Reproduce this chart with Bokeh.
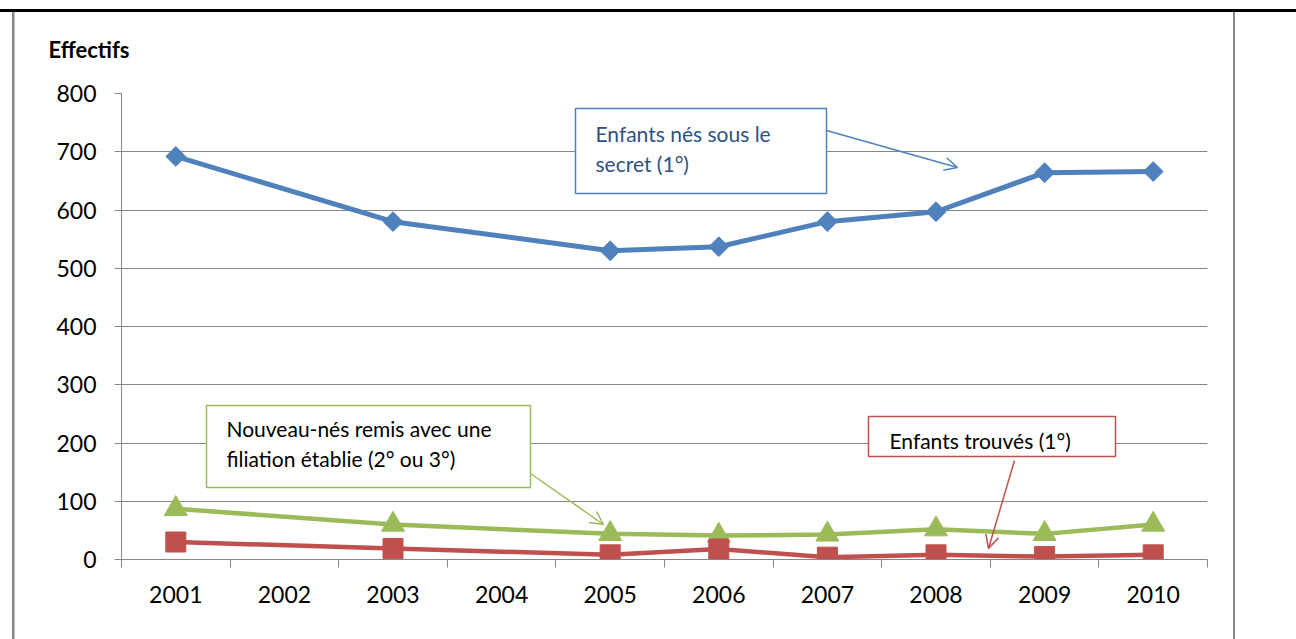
from bokeh.plotting import figure
from bokeh.models import Range1d, FixedTicker, BoxAnnotation, Label, Arrow, OpenHead
from bokeh.embed import file_html
from bokeh.resources import INLINE
import numpy as np

# ---- data ----
categories = ["2001", "2002", "2003", "2004", "2005", "2006", "2007", "2008", "2009", "2010"]
years = ["2001", "2003", "2005", "2006", "2007", "2008", "2009", "2010"]
nes_sous_secret = [692, 580, 530, 537, 580, 597, 664, 666]
nouveau_nes_remis = [87, 60, 44, 41, 43, 52, 44, 60]
enfants_trouves = [30, 19, 8, 18, 4, 8, 5, 8]
y_ticks = [0, 100, 200, 300, 400, 500, 600, 700, 800]

BLUE, RED, GREEN = "#4F81BD", "#C0504D", "#9BBB59"
GRID = "#868686"
FONT = "Lato"

# layout (page pixels): frame from x=121..1207, y=93..559
W, H = 1296, 639
LEFT, RIGHT, TOP, BOTTOM = 121, 89, 93, 80
FRAME_W = W - LEFT - RIGHT
FRAME_H = H - TOP - BOTTOM

ncat = len(categories)
ymax = y_ticks[-1]

# outer chart frame (grey) and top rule (black) drawn as CSS backgrounds behind the canvas
frame_css = {
    "background-image": ", ".join(["linear-gradient(#000000, #000000)",
                                   f"linear-gradient({GRID}, {GRID})",
                                   f"linear-gradient({GRID}, {GRID})"]),
    "background-position": "0px 9px, 12px 12px, 1233px 12px",
    "background-size": "100% 3px, 2.5px 100%, 2px 100%",
    "background-repeat": "no-repeat",
    "background-color": "white",
}

p = figure(width=W, height=H, x_range=Range1d(0, ncat), y_range=Range1d(0, ymax),
           output_backend="svg", toolbar_location=None, styles=frame_css,
           min_border_left=LEFT, min_border_right=RIGHT, min_border_top=TOP, min_border_bottom=BOTTOM)
p.outline_line_color = None
p.background_fill_color = "white"
p.border_fill_alpha = 0

# y-axis caption as title
p.title.text = "Effectifs"
p.title.text_font = FONT
p.title.text_font_size = "22px"
p.title.text_font_style = "bold"
p.title.text_color = "black"
p.title.align = "left"
p.title.offset = -73
p.title.standoff = 62

# helpers to place annotations from page pixel positions
def px2x(px):
    return (px - LEFT) / FRAME_W * ncat

def py2y(py):
    return ((TOP + FRAME_H) - py) / FRAME_H * ymax

# axes
xpos = {c: i + 0.5 for i, c in enumerate(categories)}
xa = p.xaxis[0]
xa.ticker = FixedTicker(ticks=[xpos[c] for c in categories], minor_ticks=list(range(ncat + 1)))
xa.major_label_overrides = {xpos[c]: c for c in categories}
xa.major_tick_line_color = None
xa.minor_tick_in = 0
xa.minor_tick_out = 8
xa.minor_tick_line_color = GRID
xa.axis_line_color = GRID
xa.major_label_text_font = FONT
xa.major_label_text_font_size = "23px"
xa.major_label_text_color = "black"
xa.major_label_standoff = 18

ya = p.yaxis[0]
ya.ticker = FixedTicker(ticks=y_ticks)
ya.major_tick_in = 0
ya.major_tick_out = 7
ya.major_tick_line_color = GRID
ya.minor_tick_line_color = None
ya.axis_line_color = GRID
ya.major_label_text_font = FONT
ya.major_label_text_font_size = "23px"
ya.major_label_text_color = "black"
ya.major_label_standoff = 18

p.xgrid.visible = False
p.ygrid.ticker = FixedTicker(ticks=y_ticks)
p.ygrid.grid_line_color = GRID
p.ygrid.grid_line_width = 1

# series
x = [xpos[y] for y in years]
p.line(x, nes_sous_secret, line_color=BLUE, line_width=5)
p.scatter(x, nes_sous_secret, marker="square", angle=np.pi / 4, size=14, color=BLUE)
p.line(x, nouveau_nes_remis, line_color=GREEN, line_width=4.5)
p.scatter(x, nouveau_nes_remis, marker="triangle", size=23, color=GREEN)
p.line(x, enfants_trouves, line_color=RED, line_width=4.5)
p.scatter(x, enfants_trouves, marker="square", size=20, color=RED)

def callout(box, lines, text_x, line_ys, color, text_color, arrow):
    l, r, t, b = box
    p.add_layout(BoxAnnotation(left=px2x(l), right=px2x(r), top=py2y(t), bottom=py2y(b),
                               fill_color="white", fill_alpha=1,
                               line_color=color, line_alpha=1, line_width=1.5))
    for txt, ly in zip(lines, line_ys):
        p.add_layout(Label(x=px2x(text_x), y=py2y(ly), text=txt, text_font=FONT,
                           text_font_size="21px", text_color=text_color,
                           text_baseline="middle", text_align="left"))
    (x0, y0), (x1, y1) = arrow
    p.add_layout(Arrow(end=OpenHead(size=13, line_color=color, line_width=1.5),
                       x_start=px2x(x0), y_start=py2y(y0), x_end=px2x(x1), y_end=py2y(y1),
                       line_color=color, line_width=1.5))

callout((575, 826, 108, 193), ["Enfants nés sous le", "secret (1°)"], 595, [133, 163],
        BLUE, "#2C5282", ((826, 130), (957, 167)))
callout((206, 530, 405, 487), ["Nouveau-nés remis avec une", "filiation établie (2° ou 3°)"], 226, [428, 458],
        GREEN, "black", ((530, 473), (603, 524)))
callout((868, 1115, 416, 456), ["Enfants trouvés (1°)"], 889, [440],
        RED, "black", ((1014, 460), (988, 548)))

open("out.html", "w").write(file_html(p, INLINE))
